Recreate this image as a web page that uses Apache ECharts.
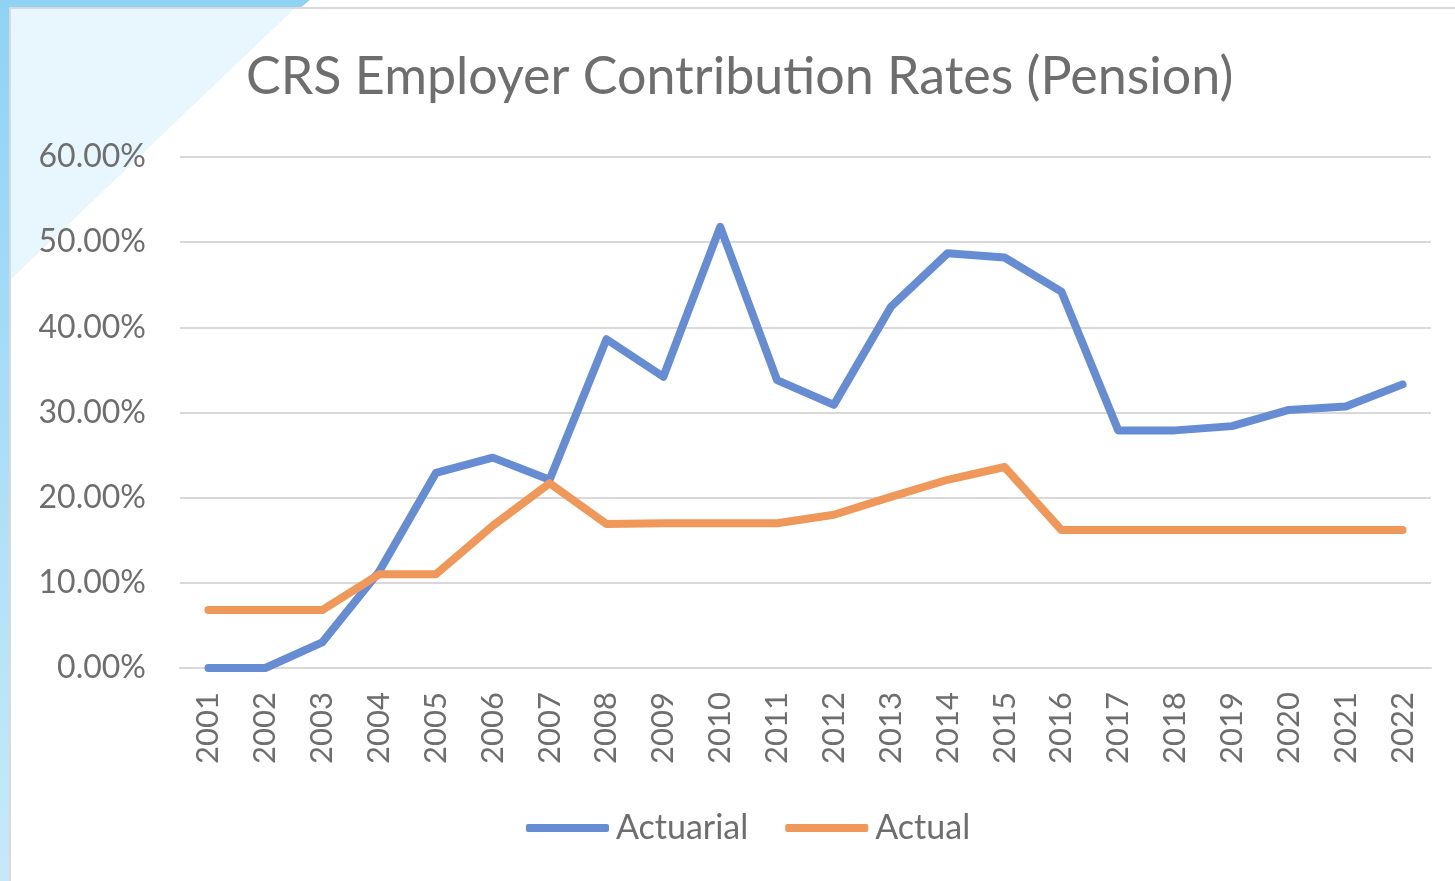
<!DOCTYPE html>
<html>
<head>
    <meta charset="utf-8">
    <title>CRS Employer Contribution Rates</title>
    <script src="https://cdn.jsdelivr.net/npm/echarts@6/dist/echarts.min.js"></script>
    <style>
        html, body { margin: 0; padding: 0; background: #fff; }
        #main { width: 1455px; height: 881px; }
    </style>
</head>
<body>
    <div id="main"></div>
</body>
</html>
<script>
// values, in percent
var years = ['2001', '2002', '2003', '2004', '2005', '2006', '2007', '2008', '2009', '2010', '2011',
             '2012', '2013', '2014', '2015', '2016', '2017', '2018', '2019', '2020', '2021', '2022'];
var actuarial = [0, 0, 3.0, 11.3, 22.9, 24.7, 22.1, 38.6, 34.2, 51.8, 33.8,
                 30.9, 42.4, 48.7, 48.2, 44.2, 27.9, 27.9, 28.4, 30.3, 30.7, 33.3];
var actual = [6.8, 6.8, 6.8, 11.0, 11.0, 16.7, 21.7, 16.9, 17.0, 17.0, 17.0,
              18.0, 20.1, 22.1, 23.6, 16.2, 16.2, 16.2, 16.2, 16.2, 16.2, 16.2];
var yTicks = [0, 10, 20, 30, 40, 50, 60];

var myChart = echarts.init(document.getElementById('main'));

var textGray = '#6e6e6e';
var font = 'Lato';

option = {
    backgroundColor: '#fff',
    animation: false,
    // slide decoration: blue edge, corner triangle and chart frame
    graphic: [
        {
            type: 'polygon', z: -10,
            shape: { points: [[0, 0], [310, 0], [300, 8], [10, 8], [10, 881], [0, 881]] },
            style: {
                fill: new echarts.graphic.LinearGradient(0, 0, 0, 1, [
                    { offset: 0, color: '#8fd3f4' }, { offset: 1, color: '#c6e9fa' }
                ])
            }
        },
        {
            type: 'polygon', z: -10,
            shape: { points: [[10, 8], [295, 8], [10, 280]] },
            style: { fill: '#e8f6fd' }
        },
        {
            type: 'rect', z: -9,
            shape: { x: 10, y: 8, width: 1460, height: 890 },
            style: { fill: null, stroke: '#d9d9d9', lineWidth: 2 }
        }
    ],
    title: {
        text: 'CRS Employer Contribution Rates (Pension)',
        left: 241,
        top: 46,
        textStyle: { fontFamily: font, fontSize: 52, fontWeight: 'normal', color: textGray }
    },
    legend: {
        data: ['Actuarial', 'Actual'],
        left: 521,
        top: 806,
        icon: 'roundRect',
        itemWidth: 83,
        itemHeight: 8,
        itemGap: 37,
        textStyle: { fontFamily: font, fontSize: 34, color: textGray, padding: [0, 0, 0, 2] }
    },
    grid: { left: 180, right: 24, top: 157, bottom: 213, containLabel: false },
    xAxis: {
        type: 'category',
        data: years,
        boundaryGap: true,
        axisLine: { lineStyle: { color: '#d9d9d9', width: 2 } },
        axisTick: { show: false },
        axisLabel: { rotate: 90, margin: 24, fontFamily: font, fontSize: 31, color: textGray }
    },
    yAxis: {
        type: 'value',
        min: yTicks[0],
        max: yTicks[yTicks.length - 1],
        interval: 10,
        axisLine: { show: false },
        axisTick: { show: false },
        splitLine: { lineStyle: { color: '#d9d9d9', width: 2 } },
        axisLabel: {
            margin: 34, fontFamily: font, fontSize: 32, color: textGray,
            formatter: function (v) { return v.toFixed(2) + '%'; }
        }
    },
    series: [
        {
            name: 'Actuarial',
            type: 'line',
            data: actuarial,
            symbol: 'none',
            color: '#668dd4',
            lineStyle: { width: 8, color: '#668dd4', cap: 'round', join: 'round' },
            z: 3
        },
        {
            name: 'Actual',
            type: 'line',
            data: actual,
            symbol: 'none',
            color: '#f0975a',
            lineStyle: { width: 8, color: '#f0975a', cap: 'round', join: 'round' },
            z: 4
        }
    ]
};

myChart.setOption(option);
</script>
